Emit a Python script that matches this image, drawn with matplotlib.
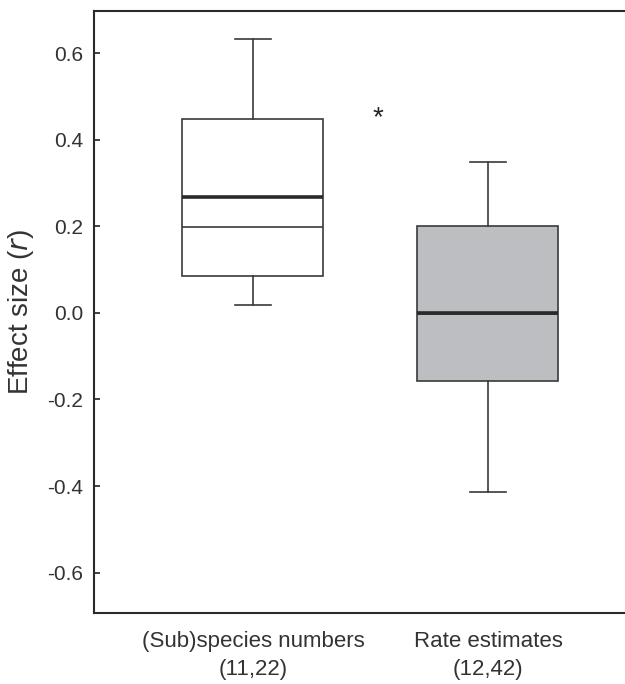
import matplotlib
matplotlib.use("Agg")
import matplotlib.pyplot as plt

plt.rcParams['font.family'] = ['Liberation Sans', 'DejaVu Sans']

# box statistics
groups = ["(Sub)species numbers\n(11,22)", "Rate estimates\n(12,42)"]
whislo = [0.018, -0.413]
q1 = [0.085, -0.157]
med = [0.199, -0.002]
mean = [0.268, 0.0]
q3 = [0.447, 0.200]
whishi = [0.633, 0.349]
fills = ["white", "#bdbec1"]
yticks = [-0.6, -0.4, -0.2, 0.0, 0.2, 0.4, 0.6]

line_col = "#3a3a3a"

fig = plt.figure(figsize=(6.25, 6.84), dpi=100)
ax = fig.add_axes([94 / 625, 1 - 613 / 684, 1 - 94 / 625, (613 - 11) / 684])

stats = []
for i in range(len(groups)):
    stats.append({'med': med[i], 'q1': q1[i], 'q3': q3[i],
                  'whislo': whislo[i], 'whishi': whishi[i],
                  'mean': mean[i], 'fliers': []})

bp = ax.bxp(stats, positions=[1, 2], widths=0.6, patch_artist=True,
            showmeans=True, meanline=True, showfliers=False, capwidths=0.15,
            boxprops=dict(edgecolor=line_col, linewidth=1.2),
            medianprops=dict(color=line_col, linewidth=1.2),
            meanprops=dict(color="#2a2a2a", linewidth=2.6, linestyle='-'),
            whiskerprops=dict(color=line_col, linewidth=1.2),
            capprops=dict(color=line_col, linewidth=1.2))
for patch, c in zip(bp['boxes'], fills):
    patch.set_facecolor(c)

# significance mark
ax.text(1.532, 0.45, "*", fontsize=20, ha='center', va='center', color="#222222")

ax.set_xlim(0.3234, 2.583)
ax.set_ylim(-0.693, 0.697)
ax.set_yticks(yticks)
ax.set_yticklabels([f"{v:.1f}" for v in yticks])
ax.set_xticks([1, 2])
ax.set_xticklabels(groups, linespacing=1.45)
ax.tick_params(axis='y', direction='in', length=4.5, width=1.3, pad=8,
               labelsize=15, colors="#333333")
ax.tick_params(axis='x', length=0, pad=13, labelsize=16, colors="#333333")
for lab in ax.get_yticklabels() + ax.get_xticklabels():
    lab.set_color("#333333")

ax.spines['right'].set_visible(False)
for s in ['left', 'top', 'bottom']:
    ax.spines[s].set_linewidth(1.5)
    ax.spines[s].set_color("#2a2a2a")

ax.set_ylabel("Effect size ($\\it{r}$)", fontsize=20, color="#333333", labelpad=8)

fig.savefig("out.png", dpi=100)
